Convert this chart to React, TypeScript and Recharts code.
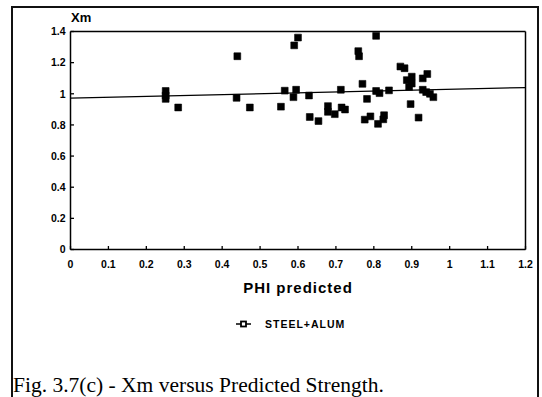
import React from "react";
import {
  ScatterChart,
  Scatter,
  XAxis,
  YAxis,
  ReferenceLine,
} from "recharts";

const phiPredicted = [
  0.251, 0.251, 0.251, 0.284, 0.44, 0.438, 0.473, 0.555, 0.565, 0.59,
  0.6, 0.588, 0.595, 0.629, 0.631, 0.654, 0.679, 0.679, 0.697, 0.713,
  0.715, 0.724, 0.759, 0.761, 0.77, 0.782, 0.776, 0.791, 0.806, 0.806,
  0.815, 0.811, 0.825, 0.827, 0.84, 0.87, 0.881, 0.887, 0.893, 0.9,
  0.9, 0.897, 0.918, 0.929, 0.929, 0.941, 0.938, 0.948, 0.957,
];
const xmValues = [
  1.018, 0.989, 0.967, 0.912, 1.241, 0.974, 0.912, 0.917, 1.02, 1.311,
  1.361, 0.978, 1.026, 0.989, 0.851, 0.825, 0.921, 0.884, 0.869, 1.026,
  0.912, 0.899, 1.274, 1.241, 1.064, 0.967, 0.834, 0.855, 1.372, 1.018,
  1.004, 0.807, 0.836, 0.862, 1.022, 1.175, 1.164, 1.088, 1.044, 1.11,
  1.066, 0.934, 0.847, 1.026, 1.099, 1.127, 1.011, 1.0, 0.978,
];
const fitLine = [
  { x: 0, y: 0.972 },
  { x: 1.2, y: 1.04 },
];
const xTicks = [0, 0.1, 0.2, 0.3, 0.4, 0.5, 0.6, 0.7, 0.8, 0.9, 1, 1.1, 1.2];
const yTicks = [0, 0.2, 0.4, 0.6, 0.8, 1, 1.2, 1.4];
const seriesName = "STEEL+ALUM";

const points = phiPredicted.map((x, i) => ({ x, y: xmValues[i] }));

const SANS = "Liberation Sans, Arial, Helvetica, sans-serif";
const X_MARGIN = 10;
const Y_MARGIN = 5;

const XTick = (props: any) => {
  const { x, y, payload } = props;
  const axisY = y - X_MARGIN;
  return (
    <g>
      <line x1={x} x2={x} y1={axisY} y2={axisY - 3.5} stroke="#000" strokeWidth={1.3} />
      <text
        x={x}
        y={axisY + 18}
        textAnchor="middle"
        fontFamily={SANS}
        style={{ fontWeight: 700 }}
        fontSize={10.5}
        fill="#000"
      >
        {String(payload.value)}
      </text>
    </g>
  );
};

const YTick = (props: any) => {
  const { x, y, payload } = props;
  const axisX = x + Y_MARGIN;
  return (
    <g>
      <line x1={axisX} x2={axisX + 3.5} y1={y} y2={y} stroke="#000" strokeWidth={1.3} />
      <text
        x={axisX - 5}
        y={y + 3.8}
        textAnchor="end"
        fontFamily={SANS}
        style={{ fontWeight: 700 }}
        fontSize={10.5}
        fill="#000"
      >
        {String(payload.value)}
      </text>
    </g>
  );
};

const Marker = (props: any) => {
  const { cx, cy } = props;
  if (cx == null || cy == null) return null;
  return (
    <path
      d={`M${cx - 3.4},${cy - 3.4}h6.8v6.8h-6.8z`}
      fill="#000"
      stroke="#000"
      strokeWidth={0.6}
      strokeLinejoin="round"
    />
  );
};

export default function App() {
  return (
    <div
      style={{
        position: "absolute",
        left: 0,
        top: 0,
        width: 542,
        height: 397,
        background: "#fff",
        overflow: "hidden",
      }}
    >
      <div
        style={{
          position: "absolute",
          left: 11,
          top: 6,
          width: 528,
          height: 420,
          border: "2px solid #111",
          boxSizing: "border-box",
        }}
      />
      <div style={{ position: "absolute", left: 0, top: 0 }}>
        <ScatterChart
          width={542}
          height={397}
          margin={{ top: 31.5, right: 16.5, bottom: 127.5, left: 10 }}
        >
          <XAxis
            type="number"
            dataKey="x"
            domain={[0, 1.2]}
            ticks={xTicks}
            interval={0}
            height={20}
            tickSize={0}
            tickMargin={X_MARGIN}
            tickLine={false}
            axisLine={{ stroke: "#000", strokeWidth: 1.5 }}
            tick={<XTick />}
            allowDataOverflow
          />
          <YAxis
            type="number"
            dataKey="y"
            domain={[0, 1.4]}
            ticks={yTicks}
            interval={0}
            width={60.5}
            tickSize={0}
            tickMargin={Y_MARGIN}
            tickLine={false}
            axisLine={{ stroke: "#000", strokeWidth: 1.5 }}
            tick={<YTick />}
            allowDataOverflow
          />
          <ReferenceLine y={1.4} stroke="#000" strokeWidth={1.5} />
          <ReferenceLine x={1.2} stroke="#000" strokeWidth={1.5} />
          <ReferenceLine segment={fitLine} stroke="#000" strokeWidth={1.3} />
          <Scatter
            name={seriesName}
            data={points}
            fill="#000"
            shape={<Marker />}
            isAnimationActive={false}
          />
        </ScatterChart>
      </div>
      <svg
        width={140}
        height={16}
        style={{ position: "absolute", left: 236, top: 316, display: "block" }}
      >
        <line x1={0} x2={15} y1={8} y2={8} stroke="#000" strokeWidth={1.5} />
        <rect x={5} y={5.5} width={5} height={5} fill="#fff" stroke="#000" strokeWidth={1.8} />
        <text
          x={29}
          y={12}
          fontFamily={SANS}
          style={{ fontWeight: 700 }}
          fontSize={10.5}
          letterSpacing={1}
          fill="#000"
        >
          {seriesName}
        </text>
      </svg>
      <div
        style={{
          position: "absolute",
          left: 71,
          top: 10,
          fontFamily: SANS,
          fontWeight: "bold",
          fontSize: 13,
          lineHeight: "16px",
        }}
      >
        Xm
      </div>
      <div
        style={{
          position: "absolute",
          left: 70,
          width: 456,
          top: 279,
          textAlign: "center",
          fontFamily: SANS,
          fontWeight: "bold",
          fontSize: 15,
          letterSpacing: 1,
          lineHeight: "18px",
        }}
      >
        PHI predicted
      </div>
      <div
        style={{
          position: "absolute",
          left: 13,
          top: 373,
          fontFamily: "Liberation Serif, Times New Roman, serif",
          fontSize: 21.5,
          lineHeight: "24px",
          whiteSpace: "nowrap",
        }}
      >
        Fig. 3.7(c) - Xm versus Predicted Strength.
      </div>
    </div>
  );
}
